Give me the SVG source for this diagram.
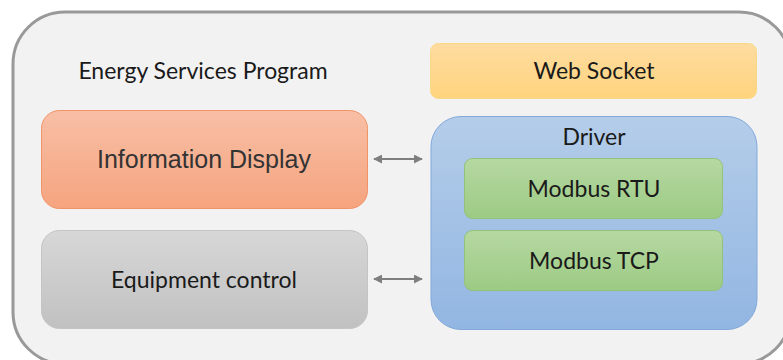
<svg xmlns="http://www.w3.org/2000/svg" width="783" height="360" viewBox="0 0 783 360">
  <style>
    .lbl { font-family: Lato, "Liberation Sans", sans-serif; font-size: 23px; fill: #1a1a1a; text-anchor: middle; dominant-baseline: central; }
    .arial { font-family: "Liberation Sans", Arial, sans-serif; font-size: 25px; fill: #333; text-anchor: middle; dominant-baseline: central; }
    .conn { stroke: #7f7f7f; stroke-width: 2; fill: none; marker-start: url(#ah); marker-end: url(#ah); }
  </style>
  <defs>
    <linearGradient id="gOrange" x1="0" y1="0" x2="0" y2="1">
      <stop offset="0" stop-color="#f8bfa6"/>
      <stop offset="1" stop-color="#f5a47e"/>
    </linearGradient>
    <linearGradient id="gGray" x1="0" y1="0" x2="0" y2="1">
      <stop offset="0" stop-color="#d7d7d7"/>
      <stop offset="1" stop-color="#c1c1c1"/>
    </linearGradient>
    <linearGradient id="gYellow" x1="0" y1="0" x2="0" y2="1">
      <stop offset="0" stop-color="#fedca0"/>
      <stop offset="1" stop-color="#ffd47e"/>
    </linearGradient>
    <linearGradient id="gBlue" x1="0" y1="0" x2="0" y2="1">
      <stop offset="0" stop-color="#b4cde9"/>
      <stop offset="1" stop-color="#92b6e2"/>
    </linearGradient>
    <linearGradient id="gGreen" x1="0" y1="0" x2="0" y2="1">
      <stop offset="0" stop-color="#b6d8a2"/>
      <stop offset="1" stop-color="#9ccb84"/>
    </linearGradient>
    <marker id="ah" viewBox="0 0 10 10" refX="9" refY="5" markerWidth="4.5" markerHeight="4.5" orient="auto-start-reverse">
      <path d="M0,0 L10,5 L0,10 z" fill="#7f7f7f"/>
    </marker>
  </defs>

  <!-- program container -->
  <g id="program">
    <rect x="13" y="12" width="778" height="352" rx="52" fill="#f2f2f2" stroke="#999" stroke-width="3"/>
    <text class="lbl" x="203" y="70">Energy Services Program</text>
  </g>

  <g id="web-socket">
    <rect x="430.5" y="43.5" width="326" height="55" rx="8" fill="url(#gYellow)" stroke="#fbd888" stroke-width="1"/>
    <text class="lbl" x="594" y="70">Web Socket</text>
  </g>

  <g id="info-display">
    <rect x="41.5" y="110.5" width="326" height="98" rx="18" fill="url(#gOrange)" stroke="#f29367" stroke-width="1"/>
    <text class="arial" x="204" y="159">Information Display</text>
  </g>

  <g id="equipment-control">
    <rect x="41.5" y="230.5" width="326" height="98" rx="18" fill="url(#gGray)" stroke="#c4c4c4" stroke-width="1"/>
    <text class="lbl" x="204" y="279">Equipment control</text>
  </g>

  <g id="driver">
    <rect x="431" y="116.5" width="326" height="213" rx="30" fill="url(#gBlue)" stroke="#82a9da" stroke-width="1"/>
    <text class="lbl" x="594" y="136">Driver</text>
  </g>

  <g id="modbus-rtu">
    <rect x="464.5" y="158.5" width="258" height="60" rx="8" fill="url(#gGreen)" stroke="#93c37a" stroke-width="1"/>
    <text class="lbl" x="594" y="188">Modbus RTU</text>
  </g>

  <g id="modbus-tcp">
    <rect x="464.5" y="230.5" width="258" height="60" rx="8" fill="url(#gGreen)" stroke="#93c37a" stroke-width="1"/>
    <text class="lbl" x="594" y="260">Modbus TCP</text>
  </g>

  <g id="connectors">
    <line class="conn" x1="374" y1="159" x2="422" y2="159"/>
    <line class="conn" x1="374" y1="279" x2="422" y2="279"/>
  </g>
</svg>
